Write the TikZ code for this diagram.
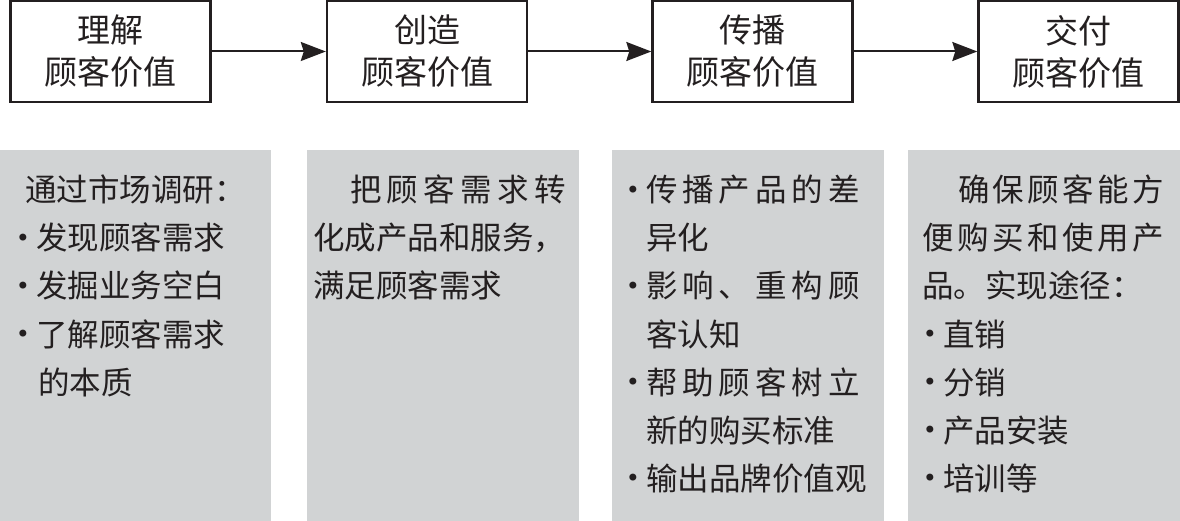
\documentclass[tikz,border=0pt]{standalone}
\usepackage{fontspec}
\setmainfont{Noto Sans CJK SC}
\newfontfamily\bulletfont{DejaVu Sans}
\usetikzlibrary{arrows.meta}
\definecolor{ink}{RGB}{35,31,32}
\definecolor{panelgray}{RGB}{209,211,212}
\newcommand{\bul}{\llap{\raisebox{3.4pt}{\bulletfont\fontsize{24pt}{24pt}\selectfont •}\hspace{6pt}}}
\newcommand{\spreadline}[2]{\hbox to #1{#2}}
\tikzset{
  topbox/.style={draw=ink, line width=2.4pt, minimum width=200pt, minimum height=101pt,
    inner sep=0pt, align=center, text=ink, font=\fontsize{33pt}{42pt}\selectfont},
  panelbox/.style={fill=panelgray, minimum width=272pt, minimum height=371pt,
    anchor=north west, inner sep=0pt, outer sep=0pt},
  txt/.style={anchor=base west, inner sep=0pt, outer sep=0pt, text=ink,
    font=\fontsize{31.5pt}{31.5pt}\selectfont},
  flow/.style={draw=ink, line width=2pt, -{Stealth[length=25pt,width=19pt,inset=3pt]}}
}
\begin{document}
\begin{tikzpicture}[x=1pt,y=-1pt]
\useasboundingbox (0,0) rectangle (1180,521);
% top boxes
\node[topbox] (t1) at (110.5,51.5) {理解\\顾客价值};
\node[topbox] (t2) at (427,51.5) {创造\\顾客价值};
\node[topbox] (t3) at (752.5,51.5) {传播\\顾客价值};
\node[topbox] (t4) at (1078.5,51.5) {交付\\顾客价值};
\draw[flow] (t1.east) -- (t2.west);
\draw[flow] (t2.east) -- (t3.west);
\draw[flow] (t3.east) -- (t4.west);
% panels
\node[panelbox, minimum width=271pt] (g1) at (0,150) {};
\node[panelbox] (g2) at (307,150) {};
\node[panelbox] (g3) at (612,150) {};
\node[panelbox] (g4) at (908,150) {};
% panel 1
\node[txt] (a1) at (25,202) {通过市场调研：};
\node[txt] (a2) at (36,250) {\bul 发现顾客需求};
\node[txt] (a3) at (36,298) {\bul 发掘业务空白};
\node[txt] (a4) at (36,346) {\bul 了解顾客需求};
\node[txt] (a5) at (38,394) {的本质};
% panel 2
\node[txt] (b1) at (350,202) {\spreadline{216pt}{把\hfil 顾\hfil 客\hfil 需\hfil 求\hfil 转}};
\node[txt] (b2) at (313,250) {化成产品和服务，};
\node[txt] (b3) at (313,298) {满足顾客需求};
% panel 3
\node[txt] (c1) at (646,202) {\bul\spreadline{214pt}{传\hfil 播\hfil 产\hfil 品\hfil 的\hfil 差}};
\node[txt] (c2) at (646,250) {异化};
\node[txt] (c3) at (646,298) {\bul\spreadline{214pt}{影\hfil 响\hfil 、\hfil 重\hfil 构\hfil 顾}};
\node[txt] (c4) at (646,346) {客认知};
\node[txt] (c5) at (646,394) {\bul\spreadline{214pt}{帮\hfil 助\hfil 顾\hfil 客\hfil 树\hfil 立}};
\node[txt] (c6) at (646,442) {新的购买标准};
\node[txt] (c7) at (646,490) {\bul 输出品牌价值观};
% panel 4
\node[txt] (d1) at (958,202) {\spreadline{206pt}{确\hfil 保\hfil 顾\hfil 客\hfil 能\hfil 方}};
\node[txt] (d2) at (922,250) {\spreadline{242pt}{便\hfil 购\hfil 买\hfil 和\hfil 使\hfil 用\hfil 产}};
\node[txt] (d3) at (922,298) {品。实现途径：};
\node[txt] (d4) at (943,346) {\bul 直销};
\node[txt] (d5) at (943,394) {\bul 分销};
\node[txt] (d6) at (943,442) {\bul 产品安装};
\node[txt] (d7) at (943,490) {\bul 培训等};
\end{tikzpicture}
\end{document}
